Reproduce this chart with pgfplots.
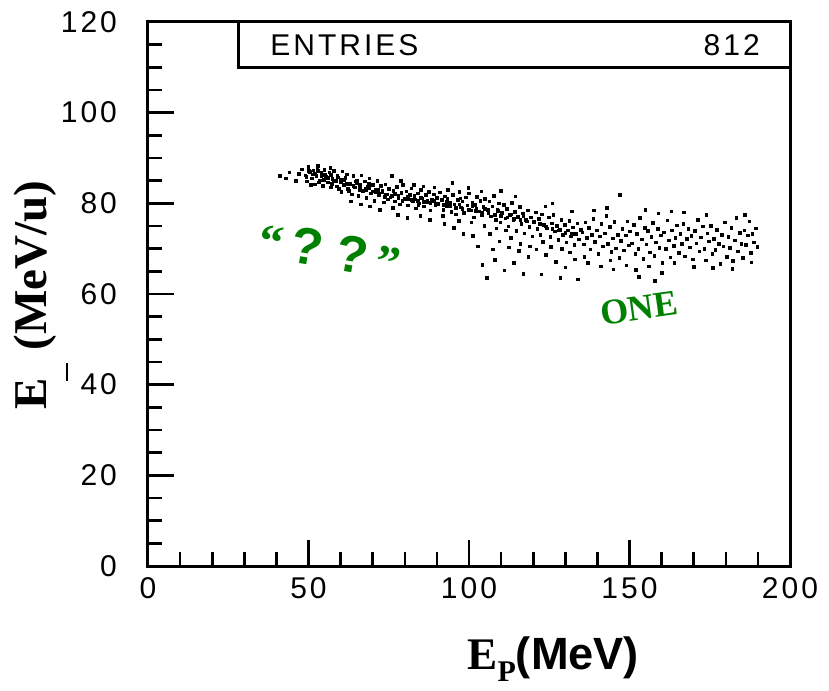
\documentclass[border=0pt]{standalone}
\usepackage{fontspec}
\usepackage{pgfplots}
\pgfplotsset{compat=1.18}
\setmainfont{Liberation Sans}
\newfontfamily\tickfont[LetterSpace=10]{Liberation Sans}
\newfontfamily\serif{Liberation Serif}
\newfontfamily\arial{Liberation Sans}
\definecolor{dg}{RGB}{0,128,0}
\begin{document}
\begin{tikzpicture}
\useasboundingbox (-74pt,-62pt) rectangle (340.5pt,283pt);
\begin{axis}[
  scale only axis, width=321pt, height=272pt, at={(0,0)}, anchor=south west,
  xmin=0, xmax=200, ymin=0, ymax=120,
  xtick={0,50,...,200}, ytick={0,20,...,120},
  minor x tick num=4, minor y tick num=3,
  tick pos=left, tick align=inside,
  axis line style={line width=1.5pt},
  tick style={line width=1.3pt, black},
  major tick length=13pt, minor tick length=7pt,
  ticklabel style={font=\tickfont\fontsize{15}{18}\selectfont},
  /pgf/number format/assume math mode=true,
  yticklabel style={xshift=-12pt},
  xticklabel style={yshift=-2pt},
  clip=false,
]
\addplot[only marks, mark=square*, mark size=0.65pt, black] coordinates {
(41,86)(43,85.5)(44,86.8)(46,85)(47,86.5)
(48,87.5)(49,86.2)(49.5,84.8)(50,88)(50.5,86.9)(51,85.5)(51.5,87.3)(52,84.2)(52.5,86.1)(53,88.2)(53.5,85.1)(54,86.7)(54.5,83.8)(55,87.4)(55.5,85.9)(56,84.6)(56.5,86.8)(57,83.5)(57.5,85.4)(58,87.1)(58.5,84.9)(59,86.2)(59.5,83.2)(60,85.3)(60.5,87.0)(50.8,84.0)(52.8,87.6)(54.8,85.2)(56.8,87.8)(58.8,83.7)(51.2,86.4)(53.2,84.6)(55.2,86.3)(57.2,84.3)(59.2,85.7)(49.3,85.8)(50.2,87.1)(61,84.1)(62,86.4)(62.5,82.8)
(61.5,85.6)(63,84.3)(63.5,82.0)(64,86.0)(64.5,83.5)(65,85.1)(65.5,81.6)(66,84.0)(66.5,86.2)(67,82.7)(67.5,84.8)(68,81.2)(68.5,83.6)(69,85.5)(69.5,82.2)(70,84.1)(70.5,80.6)(71,83.0)(71.5,85.0)(72,81.8)(72.5,83.9)(73,82.5)(73.5,80.2)(74,84.2)(74.5,82.0)(75,83.2)(63.2,80.4)(66.3,79.8)(69.2,79.3)(72.3,78.6)(64.8,84.8)(67.8,83.3)(70.8,82.4)(73.8,81.4)(62.3,83.2)(65.8,82.9)(68.8,84.3)(71.8,82.9)(74.7,80.9)(60.3,82.5)(76,86)
(75.5,81.3)(76.5,82.8)(77,80.4)(77.5,83.6)(78,81.7)(78.5,79.8)(79,82.3)(79.5,84.1)(80,81.0)(80.5,82.6)(81,79.5)(81.5,81.8)(82,83.3)(82.5,80.4)(83,81.6)(83.5,78.9)(84,82.2)(84.5,80.0)(85,83.0)(85.5,81.1)(86,79.3)(86.5,81.9)(87,80.6)(87.5,82.5)(88,78.4)(88.5,80.9)(89,82.0)(89.5,79.6)(90,81.2)(77.8,77.5)(80.8,76.8)(84.8,77.2)(87.8,76.4)(79.2,80.6)(83.2,80.9)(86.8,80.2)(76.2,79.0)(82.8,84.0)(85.8,83.7)(89.2,83.5)(78.8,85.0)(81.3,80.9)(84.2,79.6)
(90.5,79.9)(91,82.4)(91.5,80.7)(92,78.6)(92.5,81.5)(93,79.4)(93.5,83.0)(94,80.2)(94.5,78.1)(95,81.8)(95.5,79.8)(96,77.6)(96.5,80.8)(97,82.5)(97.5,79.1)(98,80.4)(98.5,77.9)(99,81.3)(99.5,79.5)(100,82.2)(100.5,78.4)(101,80.1)(101.5,76.9)(102,79.6)(102.5,81.4)(103,78.2)(103.5,80.5)(104,77.3)(104.5,79.2)(105,81.0)(92.3,75.5)(95.3,74.6)(98.3,73.2)(101.3,72.8)(94.8,84.5)(99.8,83.4)(103.8,82.6)(91.8,77.2)(96.8,76.1)(100.8,75.8)(104.8,75.0)(93.3,81.0)(97.3,81.1)(102.3,78.9)(102.8,70.5)(105.5,63.5)(104.2,66.4)
(105.8,78.6)(106.3,80.4)(106.8,77.1)(107.3,79.3)(107.8,81.6)(108.3,76.4)(108.8,78.5)(109.3,80.0)(109.8,75.8)(110.3,77.9)(110.8,79.6)(111.3,76.7)(111.8,78.8)(112.3,74.9)(112.8,77.5)(113.3,80.1)(113.8,76.2)(114.3,78.1)(114.8,73.9)(115.3,77.0)(115.8,79.2)(116.3,75.4)(116.8,77.8)(117.3,73.4)(117.8,76.3)(118.3,78.4)(118.8,74.8)(119.3,76.9)(119.8,72.7)(106.5,73.2)(109.5,71.6)(112.5,70.3)(115.5,69.5)(118.5,68.2)(108,67.5)(111,65.2)(114,66.8)(117,64.4)(110,82.8)(114.5,81.5)(107.5,69.8)(113,72.4)(116,71.0)(119,70.5)(111.5,74.0)(108.5,74.5)
(120.3,75.9)(120.8,78.0)(121.3,74.3)(121.8,76.6)(122.3,73.0)(122.8,77.6)(123.3,75.3)(123.8,79.3)(124.3,74.5)(124.8,76.9)(125.3,72.6)(125.8,75.6)(126.3,77.4)(126.8,73.8)(127.3,75.0)(127.8,71.9)(128.3,74.2)(128.8,76.3)(129.3,73.1)(129.8,75.2)(130.3,71.4)(130.8,74.0)(131.3,76.1)(131.8,72.7)(132.3,74.7)(132.8,70.8)(133.3,73.3)(133.8,75.6)(134.3,72.0)(134.8,74.1)(121,69.8)(124,68.6)(127,67.1)(130,65.9)(133,67.6)(122.5,64.3)(128.5,63.6)(125.5,70.4)(131.5,69.2)(134,63.2)(126,80.0)(132,78.2)(123,71.5)(129,69.9)
(135.3,73.6)(135.8,70.9)(136.3,75.8)(136.8,72.4)(137.3,74.6)(137.8,69.8)(138.3,73.0)(138.8,76.5)(139.3,71.5)(139.8,74.0)(140.3,68.9)(140.8,72.7)(141.3,75.4)(141.8,70.5)(142.3,73.4)(142.8,77.2)(143.3,71.1)(143.8,74.8)(144.3,69.3)(144.8,72.3)(145.3,75.9)(145.8,70.1)(146.3,73.1)(146.8,67.9)(147.3,71.7)(147.8,74.4)(148.3,69.6)(148.8,72.9)(149.3,76.0)(149.8,70.7)(137,66.8)(141,66.1)(145,65.4)(149,66.3)(139,78.4)(143,79.0)(147,81.8)(136,68.2)(144,67.4)(150.2,73.8)
(150.8,71.2)(151.3,75.2)(151.8,68.8)(152.3,73.3)(152.8,70.0)(153.3,76.8)(153.8,72.0)(154.3,67.7)(154.8,74.6)(155.3,70.9)(155.8,73.9)(156.3,69.2)(156.8,72.6)(157.3,75.7)(157.8,68.4)(158.3,71.4)(158.8,74.3)(159.3,70.2)(159.8,72.9)(160.3,66.8)(160.8,73.6)(161.3,69.9)(161.8,76.2)(162.3,71.8)(162.8,68.1)(163.3,74.0)(163.8,70.6)(164.3,72.4)(164.8,75.1)(152,65.3)(156,66.1)(160,64.6)(164,66.9)(155,78.5)(159,77.8)(163,78.2)(158,62.9)(153,63.8)
(165.3,69.0)(165.8,73.2)(166.3,71.0)(166.8,75.5)(167.3,68.3)(167.8,72.2)(168.3,74.4)(168.8,70.3)(169.3,72.8)(169.8,67.6)(170.3,73.9)(170.8,71.2)(171.3,76.3)(171.8,69.4)(172.3,72.5)(172.8,74.9)(173.3,70.0)(173.8,67.4)(174.3,73.4)(174.8,71.6)(175.3,75.0)(175.8,68.8)(176.3,72.1)(176.8,69.7)(177.3,74.2)(177.8,71.1)(178.3,66.7)(178.8,73.0)(179.3,70.5)(179.8,75.8)(180.3,68.2)(180.8,72.6)(181.3,70.2)(181.8,74.6)(182.3,67.3)(182.8,71.8)(183.3,76.8)(183.8,69.4)(184.3,73.5)(184.8,71.0)(185.3,68.0)(185.8,74.0)(186.3,70.8)(186.8,72.9)(187.3,76.0)(187.8,69.0)(188.3,73.2)(188.8,71.4)(189.3,74.5)(189.8,70.4)(167,78.0)(174,77.5)(170,66.0)(176,65.8)(182,65.6)(188,67.0)(186,77.5)
(52,86.5)(54,85.9)(56,85.6)(58,85.0)(60,84.6)(62,84.3)(64,83.8)(66,83.2)(68,82.9)(70,82.6)(72,82.2)(74,81.9)(76,81.6)(78,81.2)(80,80.9)(82,80.7)(84,80.5)(86,80.3)(88,80.1)(90,79.9)(92,79.7)(94,79.4)(96,79.0)(98,78.8)(100,78.6)(102,78.3)(104,78.0)(106,77.8)(108,77.5)(110,77.2)(112,76.9)(114,76.6)(116,76.4)(118,76.0)(122,75.4)(124,74.9)(126,74.4)(128,74.0)(130,73.5)(132,73.2)
(53,87.2)(57,86.3)(61,85.2)(65,84.4)(69,83.4)(73,82.8)(77,82.1)(81,81.5)(85,81.2)(89,80.6)(93,80.3)(97,79.8)(101,79.3)(105,78.8)(109,78.3)(113,77.6)(117,77.1)
};
% stats box
\draw[line width=1.5pt] (axis cs:28.3,109.9) rectangle (axis cs:200,120);
\node[anchor=base west, inner sep=0pt, font=\tickfont\fontsize{15}{18}\selectfont] at (axis cs:38,112.5) {ENTRIES};
\node[anchor=base east, inner sep=0pt, font=\tickfont\fontsize{15}{18}\selectfont] at (axis cs:190.7,112.5) {812};
% annotations
\node[dg, rotate=-10, inner sep=0pt, font=\serif\bfseries\fontsize{24}{28}\selectfont] at (axis cs:56.7,69.7) {“\,{\arial\bfseries\fontsize{26}{30}\selectfont ?}\hspace{0.3em}{\arial\bfseries\fontsize{26}{30}\selectfont ?}\,”};
\node[dg, rotate=8, inner sep=0pt, font=\serif\bfseries\fontsize{18}{22}\selectfont] at (axis cs:153,56.9) {ONE};
% axis labels
\node[rotate=90, anchor=base west, inner sep=0pt, font=\serif\bfseries\fontsize{23.5}{27}\selectfont] at (axis cs:-31.5,34.4) {E\hspace{14pt}(MeV/u)};
\node[anchor=base west, inner sep=0pt] at (axis cs:99.4,-22.9) {{\serif\bfseries\fontsize{22.6}{27}\selectfont E}\raisebox{-6pt}{\serif\bfseries\fontsize{15}{18}\selectfont P}{\arial\bfseries\fontsize{22.6}{27}\selectfont (MeV)}};
\draw[line width=0.8pt] (axis cs:-25.2,40.8) -- (axis cs:-25.2,44.8);
\end{axis}
\end{tikzpicture}
\end{document}
